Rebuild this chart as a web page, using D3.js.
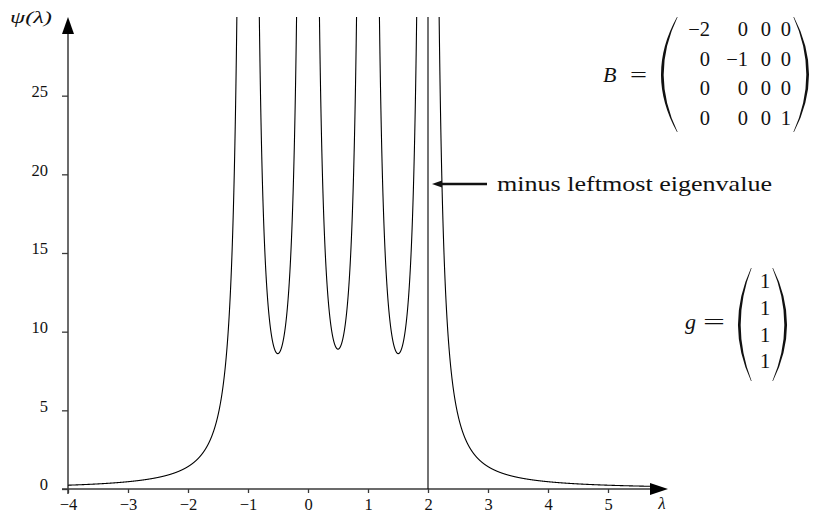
<!DOCTYPE html>
<html><head><meta charset="utf-8">
<script src="https://cdn.jsdelivr.net/npm/d3@7"></script>
<style>
body{margin:0;background:#fff;}
text{font-family:"Liberation Serif","Times New Roman",serif;fill:#111;}
</style></head>
<body><svg id="c" width="820" height="513"></svg>
<script>
// Data
const B = [[-2,0,0,0],[0,-1,0,0],[0,0,0,0],[0,0,0,1]];
const gVec = [1,1,1,1];
const xTicks = [-4,-3,-2,-1,0,1,2,3,4,5];
const yTicks = [0,5,10,15,20,25];
const lambdaRange = [-4, 5.75];
const leftmostEig = -2;
const annotation = "minus leftmost eigenvalue";

const svg = d3.select("#c");
const x = d3.scaleLinear().domain([-4,6]).range([68,668]);
const y = d3.scaleLinear().domain([0,30]).range([489,17]);
const axisColor = "#3a3a3a";

// clip
svg.append("clipPath").attr("id","clip").append("rect")
  .attr("x",x(-4)).attr("y",y(30)).attr("width",x(6)-x(-4)).attr("height",y(0)-y(30));

// x axis
const xa = svg.append("g").attr("transform",`translate(0,${y(0)})`)
  .call(d3.axisBottom(x).tickValues(xTicks).tickSize(4).tickPadding(6)
    .tickFormat(d=> d<0 ? "\u2212"+Math.abs(d) : String(d)));
xa.select(".domain").remove();
xa.selectAll(".tick line").attr("stroke",axisColor).attr("stroke-width",1.3);
xa.selectAll(".tick text").attr("font-size",16.5).attr("fill","#222").attr("dy","0.65em");
svg.append("line").attr("x1",62).attr("x2",655).attr("y1",y(0)).attr("y2",y(0))
  .attr("stroke",axisColor).attr("stroke-width",1.5);
svg.append("path").attr("d",`M650,${y(0)-6}L668,${y(0)}L650,${y(0)+6}Z`).attr("fill","#000");
svg.append("text").attr("x",662).attr("y",509).attr("text-anchor","middle")
  .attr("font-size",17).attr("font-style","italic").text("λ");

// y axis
const ya = svg.append("g").attr("transform",`translate(${x(-4)},0)`)
  .call(d3.axisLeft(y).tickValues(yTicks).tickSize(6).tickPadding(14));
ya.select(".domain").remove();
ya.selectAll(".tick line").attr("stroke",axisColor).attr("stroke-width",1.3);
ya.selectAll(".tick text").attr("font-size",16.5).attr("fill","#222").attr("dy","0.05em");
svg.append("line").attr("x1",x(-4)).attr("x2",x(-4)).attr("y1",494).attr("y2",30)
  .attr("stroke",axisColor).attr("stroke-width",1.5);
svg.append("path").attr("d",`M${x(-4)-6},34L${x(-4)},17L${x(-4)+6},34Z`).attr("fill","#000");
svg.append("text").attr("x",10).attr("y",23).attr("font-size",17).attr("font-style","italic")
  .attr("textLength",42).attr("lengthAdjust","spacingAndGlyphs").text("ψ(λ)");

// curve psi(lambda) = sum g_i^2 / (b_ii + lambda)^2
const diag = B.map((r,i)=>r[i]);
const psi = l => d3.sum(diag, (b,i)=> gVec[i]*gVec[i]/((b+l)*(b+l)));
const poles = diag.map(b=>-b).sort((a,b)=>a-b);
const bounds = [lambdaRange[0], ...poles, lambdaRange[1]];
const line = d3.line().x(d=>x(d[0])).y(d=>y(d[1]));
const gc = svg.append("g").attr("clip-path","url(#clip)");
for (let k=0;k<bounds.length-1;k++){
  const a=bounds[k], b=bounds[k+1];
  const pts=[];
  const n=4000;
  for(let i=0;i<=n;i++){
    const l=a+(b-a)*i/n;
    const v=psi(l);
    if(isFinite(v) && v<=45) pts.push([l,v]);
  }
  gc.append("path").attr("d",line(pts)).attr("fill","none").attr("stroke","#000").attr("stroke-width",1.1);
}
// vertical line at minus leftmost eigenvalue
gc.append("line").attr("x1",x(-leftmostEig)).attr("x2",x(-leftmostEig))
  .attr("y1",y(0)).attr("y2",y(30)).attr("stroke","#000").attr("stroke-width",1.1);

// annotation arrow
svg.append("line").attr("x1",x(-leftmostEig)+12).attr("x2",487).attr("y1",184).attr("y2",184)
  .attr("stroke","#111").attr("stroke-width",2.4);
svg.append("path").attr("d",`M${x(-leftmostEig)+4},184L${x(-leftmostEig)+14},180.5L${x(-leftmostEig)+14},187.5Z`).attr("fill","#111");
svg.append("text").attr("x",497).attr("y",191).attr("font-size",21)
  .attr("textLength",275).attr("lengthAdjust","spacingAndGlyphs").text(annotation);

// filled, tapered parenthesis
function drawParen(xEdge,y0,y1,w,left){
  const s = left ? -1 : 1;
  const ym=(y0+y1)/2;
  const t=2.4;
  const d=`M${xEdge},${y0}Q${xEdge+s*w},${ym} ${xEdge},${y1}`+
          `L${xEdge-s*0.6},${y1}Q${xEdge+s*(w-2*t)},${ym} ${xEdge-s*0.6},${y0}Z`;
  svg.append("path").attr("d",d).attr("fill","#111");
}
const fmt = v => v<0 ? "\u2212"+Math.abs(v) : String(v);

// matrix B
svg.append("text").attr("x",603).attr("y",82).attr("font-size",22).attr("font-style","italic").text("B");
svg.append("text").attr("x",630).attr("y",82).attr("font-size",22)
  .attr("textLength",17).attr("lengthAdjust","spacingAndGlyphs").text("=");
drawParen(677,17,132,32,true);
drawParen(794,17,132,30,false);
const colRight=[710,748,771,791];
const rowBase=[36,66,95,125];
B.forEach((row,i)=>row.forEach((v,j)=>{
  svg.append("text").attr("x",colRight[j]).attr("y",rowBase[i]).attr("text-anchor","end")
    .attr("font-size",20.5).text(fmt(v));
}));

// vector g
svg.append("text").attr("x",685).attr("y",329).attr("font-size",22).attr("font-style","italic").text("g");
svg.append("text").attr("x",703).attr("y",329).attr("font-size",22)
  .attr("textLength",22).attr("lengthAdjust","spacingAndGlyphs").text("=");
drawParen(751,268,381,26,true);
drawParen(773,268,381,28,false);
const gBase=[288,315,342,368];
gVec.forEach((v,i)=>{
  svg.append("text").attr("x",765).attr("y",gBase[i]).attr("text-anchor","middle").attr("font-size",20.5).text(fmt(v));
});
</script></body></html>
